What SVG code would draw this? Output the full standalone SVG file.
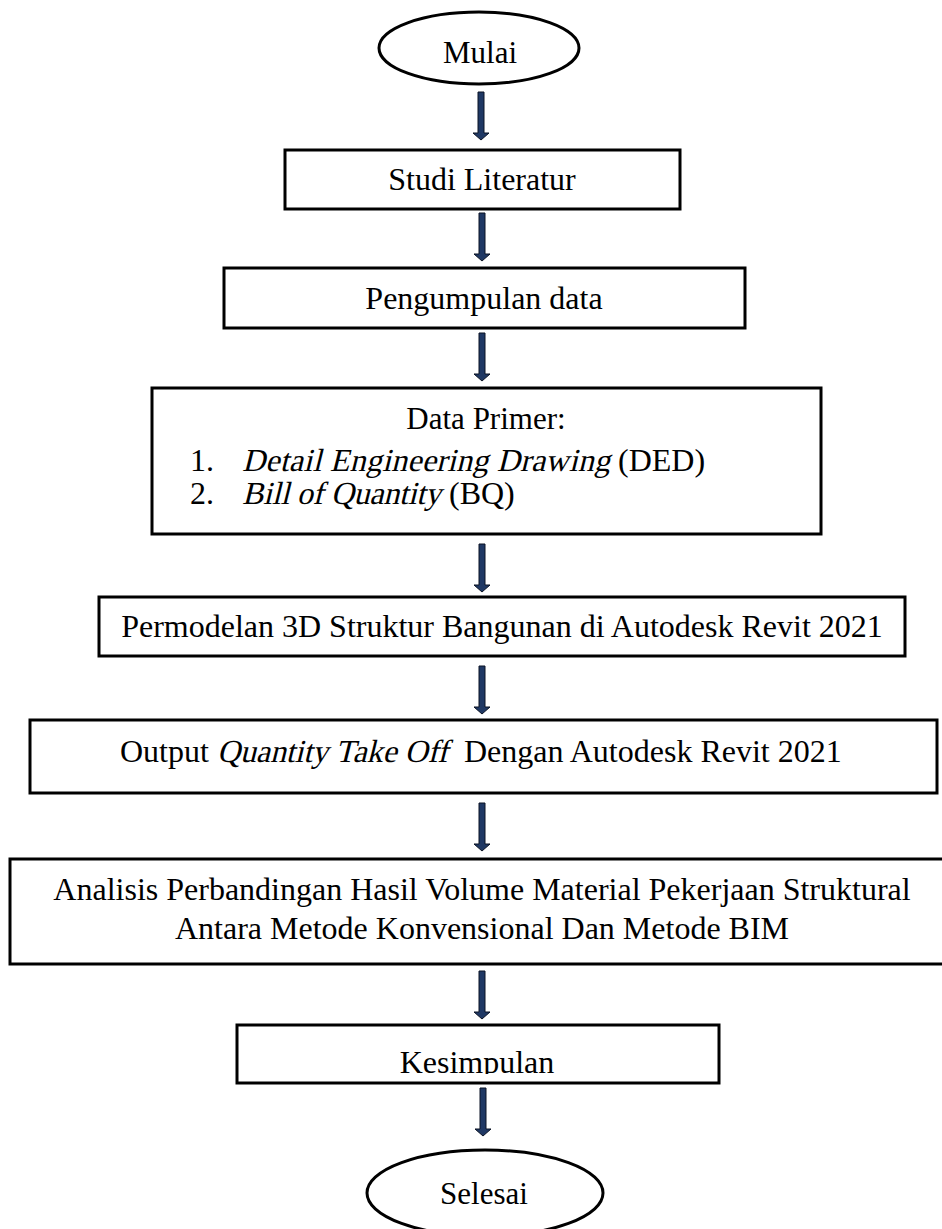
<svg xmlns="http://www.w3.org/2000/svg" xmlns:xlink="http://www.w3.org/1999/xlink" width="942" height="1229" viewBox="0 0 942 1229">
<style>
.box{fill:#fff;stroke:#000;stroke-width:3}
.t{font-family:"Liberation Serif","Times New Roman",serif;font-size:32px;fill:#000}
.s31{font-size:31px}
.c{text-anchor:middle}
.arr{fill:#1f3864;stroke:#0b1324;stroke-width:1}
</style>
<defs>
<path id="arrow" class="arr" d="M-3,0 H3 V41 H8 L0,48 L-8,41 H-3 Z"/>
<clipPath id="kclip"><rect x="0" y="1000" width="942" height="74"/></clipPath>
</defs>
<rect width="942" height="1229" fill="#fff"/>
<g id="connectors">
<use xlink:href="#arrow" x="481" y="92"/>
<use xlink:href="#arrow" x="482" y="213"/>
<use xlink:href="#arrow" x="482" y="333"/>
<use xlink:href="#arrow" x="482" y="544"/>
<use xlink:href="#arrow" x="482" y="666"/>
<use xlink:href="#arrow" x="482" y="803"/>
<use xlink:href="#arrow" x="482" y="971"/>
<use xlink:href="#arrow" x="483" y="1088"/>
</g>
<g id="mulai">
<ellipse class="box" cx="479" cy="48" rx="100" ry="36"/>
<text class="t s31 c" x="480" y="63">Mulai</text>
</g>
<g id="studi">
<rect class="box" x="285" y="150" width="395" height="59"/>
<text class="t c" x="482" y="190">Studi Literatur</text>
</g>
<g id="pengumpulan">
<rect class="box" x="224" y="268" width="521" height="60"/>
<text class="t c" x="484" y="309">Pengumpulan data</text>
</g>
<g id="dataprimer">
<rect class="box" x="152" y="388" width="669" height="146"/>
<text class="t s31 c" x="486" y="429">Data Primer:</text>
<text class="t" x="190" y="471">1.</text>
<text class="t" transform="translate(242,471) skewX(-14)" x="0" y="0" textLength="368" lengthAdjust="spacing">Detail Engineering Drawing</text>
<text class="t" x="618" y="471">(DED)</text>
<text class="t" x="190" y="504">2.</text>
<text class="t" transform="translate(242,504) skewX(-14)" x="0" y="0" textLength="199" lengthAdjust="spacing">Bill of Quantity</text>
<text class="t" x="449" y="504">(BQ)</text>
</g>
<g id="permodelan">
<rect class="box" x="99" y="597" width="806" height="59"/>
<text class="t c" x="502" y="637">Permodelan 3D Struktur Bangunan di Autodesk Revit 2021</text>
</g>
<g id="output">
<rect class="box" x="30" y="720" width="907" height="73"/>
<text class="t" x="120" y="762">Output</text>
<text class="t" transform="translate(217,762) skewX(-14)" x="0" y="0" textLength="231" lengthAdjust="spacing">Quantity Take Off</text>
<text class="t" x="464" y="762">Dengan Autodesk Revit 2021</text>
</g>
<g id="analisis">
<rect class="box" x="10" y="859" width="940" height="105"/>
<text class="t c" x="482" y="900">Analisis Perbandingan Hasil Volume Material Pekerjaan Struktural</text>
<text class="t c" x="482" y="939">Antara Metode Konvensional Dan Metode BIM</text>
</g>
<g id="kesimpulan">
<rect class="box" x="237" y="1025" width="482" height="58"/>
<text class="t c" x="477" y="1073" clip-path="url(#kclip)">Kesimpulan</text>
</g>
<g id="selesai">
<ellipse class="box" cx="485" cy="1193" rx="118" ry="43"/>
<text class="t s31 c" x="484" y="1204">Selesai</text>
</g>
</svg>
